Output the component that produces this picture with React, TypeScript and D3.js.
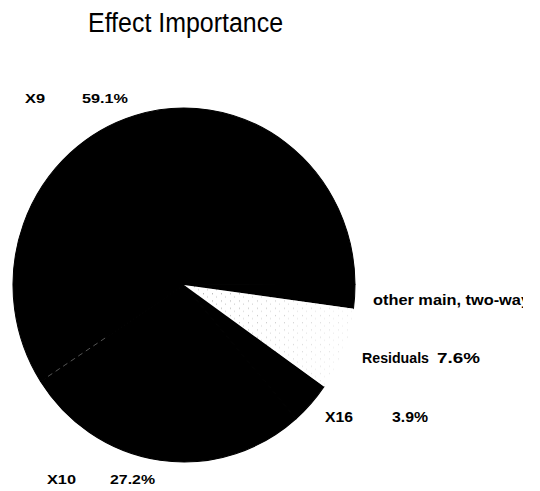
import { useMemo } from "react";
import * as d3 from "d3";

// Effect shares, in the order the slices run clockwise from the X9/X10 edge.
const effects = ["X9", "other main, two-way", "Residuals", "X16", "X10"];
const shares = [59.1, 2.2, 7.6, 3.9, 27.2];
const shareLabels = ["59.1%", "", "7.6%", "3.9%", "27.2%"];
const fills = ["#000", "#000", "url(#stipple)", "#000", "#000"];

const W = 540;
const H = 491;
const cx = 184;
const cy = 285;
const rx = 171;
const ry = 177;
// X9 slice starts at the lower-left edge (d3 angle, from 12 o'clock clockwise)
const START = (237 / 180) * Math.PI;

export default function App() {
  const arcs = useMemo(() => {
    const pie = d3
      .pie<number>()
      .sort(null)
      .value((d) => d)
      .startAngle(START)
      .endAngle(START + 2 * Math.PI);
    return pie(shares);
  }, []);

  const arc = d3.arc<d3.PieArcDatum<number>>().innerRadius(0).outerRadius(rx);

  // faint seam between X9 and X10 (the only visible slice border)
  const seamA = arcs[0].startAngle;
  const seam = (r: number) => [Math.sin(seamA) * r, -Math.cos(seamA) * r];
  const [s0x, s0y] = seam(rx * 0.55);
  const [s1x, s1y] = seam(rx * 0.95);

  const font = "'Liberation Sans', Arial, Helvetica, sans-serif";

  return (
    <svg
      width={W}
      height={H}
      viewBox={`0 0 ${W} ${H}`}
      style={{ position: "absolute", left: 0, top: 0, background: "#fff" }}
    >
      <defs>
        <pattern id="stipple" width="9" height="7" patternUnits="userSpaceOnUse">
          <rect width="9" height="7" fill="#fff" />
          <rect x="1" y="1" width="1" height="1" fill="#9a9a9a" />
          <rect x="5" y="4" width="1" height="1" fill="#bdbdbd" />
        </pattern>
        <radialGradient id="fade" cx="0" cy="0" r={rx} gradientUnits="userSpaceOnUse">
          <stop offset="0%" stopColor="#fff" stopOpacity="0" />
          <stop offset="100%" stopColor="#fff" stopOpacity="0.75" />
        </radialGradient>
        <clipPath id="page">
          <rect x="0" y="0" width="523" height={H} />
        </clipPath>
      </defs>

      <text
        x={88}
        y={32}
        fontFamily={font}
        fontSize={27}
        textLength={195}
        lengthAdjust="spacingAndGlyphs"
        fill="#000"
      >
        Effect Importance
      </text>

      <g transform={`translate(${cx},${cy}) scale(1,${ry / rx})`}>
        {arcs.map((a, i) =>
          fills[i] === "#000" ? (
            <path
              key={effects[i]}
              d={arc(a) ?? ""}
              fill="#000"
              stroke="#000"
              strokeWidth={1}
              strokeLinejoin="round"
            />
          ) : null,
        )}
        <path d={arc(arcs[2]) ?? ""} fill={fills[2]} />
        <path d={arc(arcs[2]) ?? ""} fill="url(#fade)" />
        <line
          x1={s0x}
          y1={s0y}
          x2={s1x}
          y2={s1y}
          stroke="#888"
          strokeWidth={0.6}
          strokeDasharray="5 4"
        />
      </g>

      <g fontFamily={font} fontWeight="bold" fill="#000">
        <text x={25} y={103} fontSize={13} textLength={20} lengthAdjust="spacingAndGlyphs">
          {effects[0]}
        </text>
        <text x={82} y={103} fontSize={13} textLength={46} lengthAdjust="spacingAndGlyphs">
          {shareLabels[0]}
        </text>

        <text
          x={373}
          y={305}
          fontSize={14}
          textLength={157}
          lengthAdjust="spacingAndGlyphs"
          clipPath="url(#page)"
        >
          {effects[1]}
        </text>

        <text x={362} y={363} fontSize={15} textLength={67} lengthAdjust="spacingAndGlyphs">
          {effects[2]}
        </text>
        <text x={437} y={363} fontSize={15} textLength={43} lengthAdjust="spacingAndGlyphs">
          {shareLabels[2]}
        </text>

        <text x={325} y={422} fontSize={14} textLength={28} lengthAdjust="spacingAndGlyphs">
          {effects[3]}
        </text>
        <text x={392} y={422} fontSize={14} textLength={36} lengthAdjust="spacingAndGlyphs">
          {shareLabels[3]}
        </text>

        <text x={47} y={484} fontSize={13} textLength={29} lengthAdjust="spacingAndGlyphs">
          {effects[4]}
        </text>
        <text x={110} y={484} fontSize={13} textLength={45} lengthAdjust="spacingAndGlyphs">
          {shareLabels[4]}
        </text>
      </g>
    </svg>
  );
}
